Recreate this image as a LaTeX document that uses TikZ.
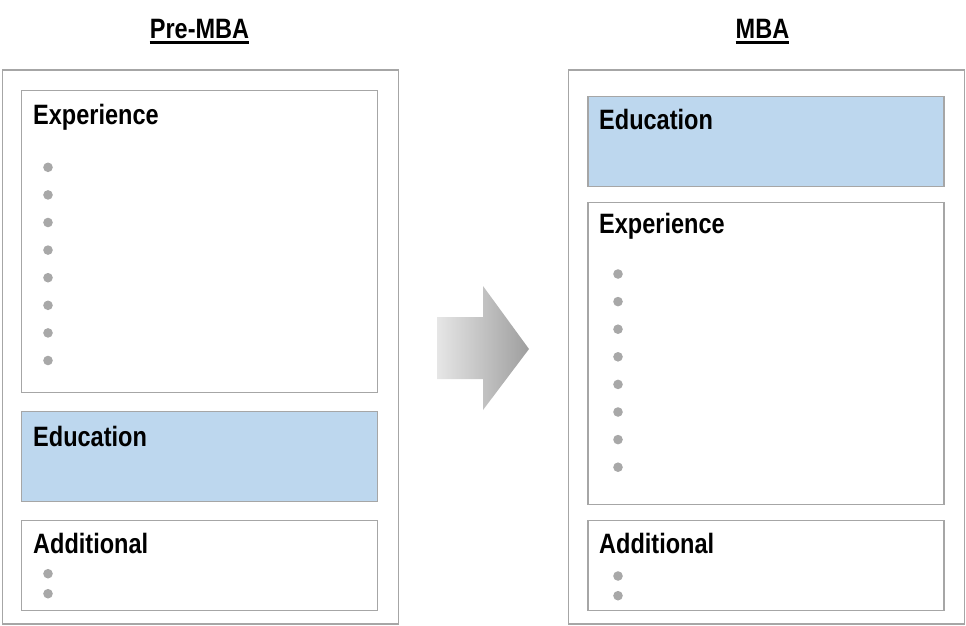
\documentclass[tikz,border=0pt]{standalone}
\usepackage{fontspec}
\newfontfamily\narrowsans[FakeStretch=0.84]{Liberation Sans}
\definecolor{framegray}{RGB}{166,166,166}
\definecolor{dotgray}{RGB}{168,168,168}
\definecolor{edublue}{RGB}{189,215,238}
\definecolor{arrowlight}{RGB}{230,230,230}
\definecolor{arrowdark}{RGB}{158,158,158}

\begin{document}
\begin{tikzpicture}[x=1pt, y=-1pt,
	frame/.style={draw=framegray, line width=1.5pt, anchor=north west, inner sep=0pt},
	section/.style={frame, minimum width=356pt},
	edu/.style={section, fill=edublue},
	heading/.style={font=\narrowsans\bfseries\fontsize{28}{32}\selectfont, inner sep=0pt, anchor=base west},
	title/.style={heading, anchor=base},
	dot/.style={fill=dotgray}]
		\useasboundingbox (0,0) rectangle (966,625);
		% Pre-MBA
		\node[title] (pretitle) at (199.5,38) {Pre-MBA};
		\draw[line width=2.2pt] ([yshift=-4.5pt]pretitle.base west) -- ([yshift=-4.5pt]pretitle.base east);
		\node[frame, minimum width=396pt, minimum height=554pt] (preframe) at (1.5,69) {};
		\node[section, minimum height=302pt] (preexp) at (20.5,89.5) {};
		\node[edu, minimum height=90pt] (preedu) at (20.5,410.5) {};
		\node[section, minimum height=90pt] (preadd) at (20.5,519.5) {};
		\node[heading] (preexplabel) at (33,124) {Experience};
		\node[heading] (preedulabel) at (33,446) {Education};
		\node[heading] (preaddlabel) at (33,553) {Additional};
		\foreach \i in {0,...,7}
			\fill[dot] (48,167.3+27.6*\i) circle (4.8);
		\fill[dot] (48,573.7) circle (4.8);
		\fill[dot] (48,593.7) circle (4.8);
		% arrow
		\shade[left color=arrowlight, right color=arrowdark] (437,317) -- (483,317) -- (483,286) -- (529,349) -- (483,410) -- (483,379) -- (437,379) -- cycle;
		% MBA
		\node[title] (mbatitle) at (762.5,38) {MBA};
		\draw[line width=2.2pt] ([yshift=-4.5pt]mbatitle.base west) -- ([yshift=-4.5pt]mbatitle.base east);
		\node[frame, minimum width=396pt, minimum height=554pt] (mbaframe) at (567.5,69) {};
		\node[edu, minimum height=90pt] (mbaedu) at (587,95.5) {};
		\node[section, minimum height=302pt] (mbaexp) at (587,201.5) {};
		\node[section, minimum height=90pt] (mbaadd) at (587,519.5) {};
		\node[heading] (mbaedulabel) at (599,129) {Education};
		\node[heading] (mbaexplabel) at (599,233) {Experience};
		\node[heading] (mbaaddlabel) at (599,553) {Additional};
		\foreach \i in {0,...,7}
			\fill[dot] (618,274+27.6*\i) circle (4.8);
		\fill[dot] (618,576) circle (4.8);
		\fill[dot] (618,595.7) circle (4.8);
	\end{tikzpicture}
\end{document}
